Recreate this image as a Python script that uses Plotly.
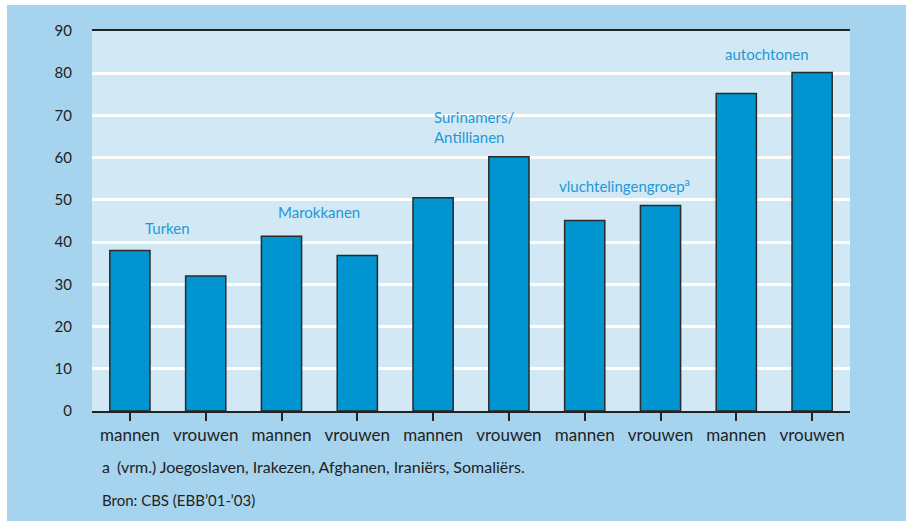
import plotly.graph_objects as go

groups = ["Turken", "Marokkanen", "Surinamers/<br>Antillianen", "vluchtelingengroep<sup>a</sup>", "autochtonen"]
tick_labels = ["mannen", "vrouwen"] * 5
values = [38.0, 32.0, 41.4, 36.8, 50.5, 60.2, 45.1, 48.7, 75.2, 80.2]
y_ticks = [0, 10, 20, 30, 40, 50, 60, 70, 80, 90]
footnote = "(vrm.) Joegoslaven, Irakezen, Afghanen, Iraniërs, Somaliërs."
source = "Bron: CBS (EBB’01-’03)"

x_idx = list(range(len(values)))

FONT = "Lato"
TXT = "#222222"
LABEL_BLUE = "#1f98d5"

fig = go.Figure(go.Bar(
    x=x_idx, y=values,
    marker=dict(color="#0094d1", line=dict(color="#2a2a2a", width=1.5)),
    width=0.53,
    hoverinfo="skip",
))

W, H = 906, 521
L, R, T, B = 92, 56, 31, 110
pw, ph = W - L - R, H - T - B

def px_x(px):
    return (px - L) / pw

def px_y(py):
    return (H - B - py) / ph

shapes = [
    dict(type="rect", xref="paper", yref="paper", x0=px_x(-5), x1=px_x(W + 5), y0=px_y(5), y1=px_y(-5),
         fillcolor="white", line=dict(width=0), layer="below"),
    dict(type="rect", xref="paper", yref="paper", x0=px_x(-5), x1=px_x(7), y0=px_y(H + 5), y1=px_y(-5),
         fillcolor="white", line=dict(width=0), layer="below"),
    dict(type="rect", xref="paper", yref="paper", x0=0, x1=1, y0=0, y1=1,
         fillcolor="#d2e8f5", line=dict(width=0), layer="below"),
]

annotations = []
label_pos = [(0.5, 43.3, "center"), (2.5, 47.1, "center"), (3.98, 67.3, "left"), (6.52, 53.3, "center"), (8.4, 84.6, "center")]
for g, (gx, gy, al) in zip(groups, label_pos):
    annotations.append(dict(x=gx, y=gy, xref="x", yref="y", text=g, showarrow=False,
                            xanchor=al, yanchor="middle", align="left",
                            font=dict(family=FONT, size=15, color=LABEL_BLUE)))

annotations.append(dict(x=px_x(100), y=px_y(466), xref="paper", yref="paper", text="a", showarrow=False,
                        xanchor="left", yanchor="middle", font=dict(family=FONT, size=16, color=TXT)))
annotations.append(dict(x=px_x(115), y=px_y(466), xref="paper", yref="paper", text=footnote, showarrow=False,
                        xanchor="left", yanchor="middle", font=dict(family=FONT, size=16, color=TXT)))
annotations.append(dict(x=px_x(100), y=px_y(500), xref="paper", yref="paper", text=source, showarrow=False,
                        xanchor="left", yanchor="middle", font=dict(family=FONT, size=15, color=TXT)))

fig.update_layout(
    width=W, height=H,
    margin=dict(l=L, r=R, t=T, b=B, pad=0),
    paper_bgcolor="#a6d4ee",
    plot_bgcolor="#d2e8f5",
    showlegend=False,
    shapes=shapes,
    annotations=annotations,
    font=dict(family=FONT, size=16, color=TXT),
)
fig.update_xaxes(
    range=[-0.5, 9.5], tickvals=x_idx, ticktext=tick_labels,
    showline=True, mirror=True, linecolor="#222222", linewidth=1.5,
    ticks="outside", ticklen=8, tickwidth=1.5, tickcolor="#222222",
    showgrid=False, zeroline=False,
    tickfont=dict(family=FONT, size=17, color=TXT),
)
fig.update_yaxes(
    range=[0, 90], tickvals=y_ticks, ticktext=[str(v) for v in y_ticks],
    showgrid=True, gridcolor="white", gridwidth=2.5, zeroline=False, showline=False,
    ticks="outside", ticklen=16, tickcolor="rgba(0,0,0,0)",
    tickfont=dict(family=FONT, size=15, color=TXT),
)

fig.write_html("out.html", config={"displayModeBar": False},
               post_script="document.body.style.margin='0';document.body.style.overflow='hidden';")
